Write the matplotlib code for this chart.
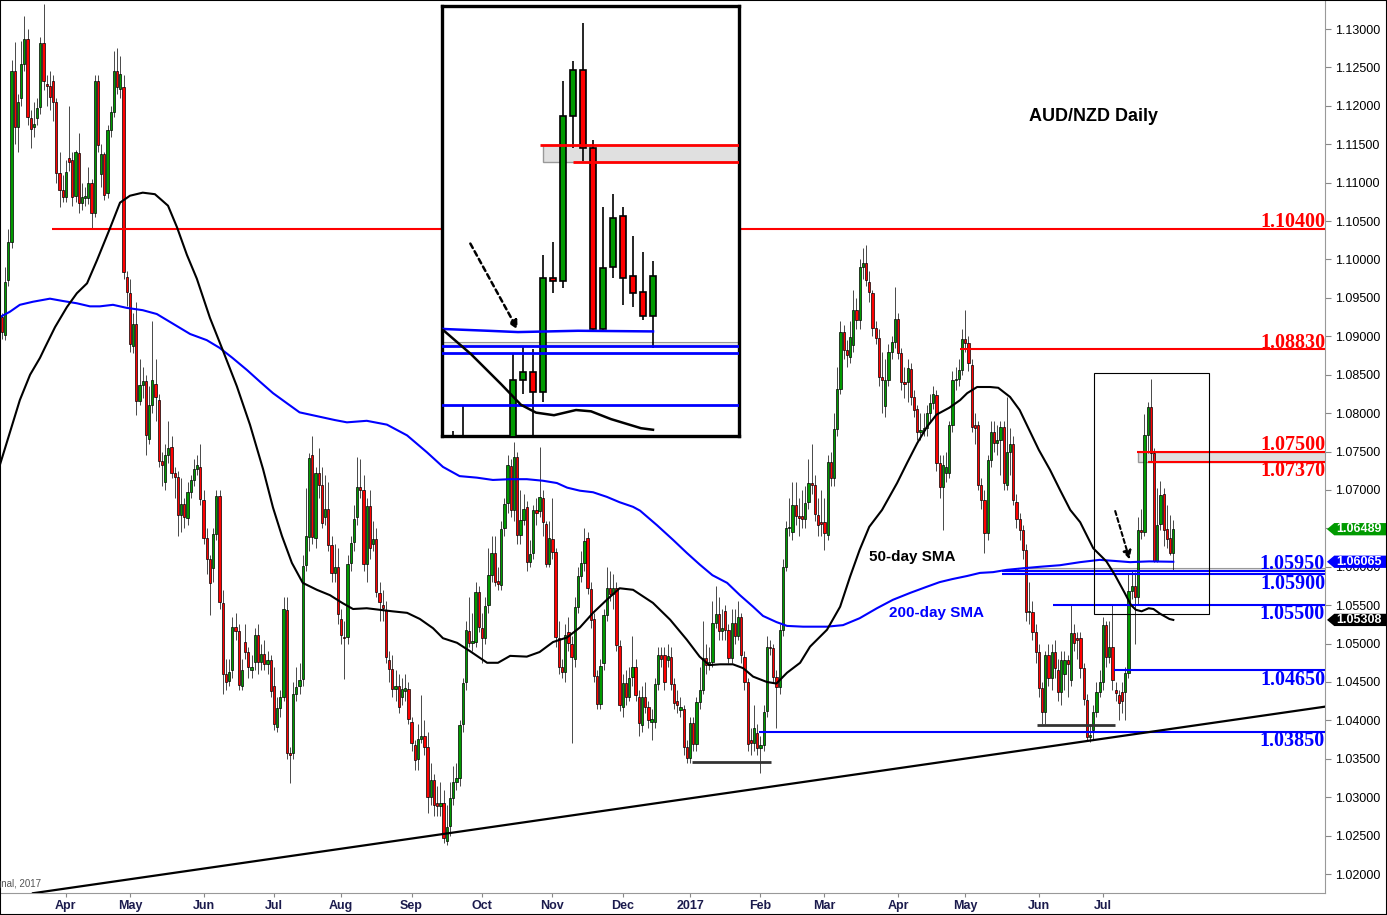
import matplotlib
matplotlib.use("Agg")
import matplotlib.pyplot as plt
import matplotlib.transforms as mtransforms
from matplotlib.patches import Rectangle, Polygon

plt.rcParams['font.family'] = ['Liberation Sans', 'DejaVu Sans']

# daily candles, Mar 2016 - Jul 2017
opens = [
    1.0925, 1.0902, 1.0973, 1.1023, 1.1245, 1.1172, 1.1210, 1.1255, 1.1287, 1.1184,
    1.1172, 1.1184, 1.1199, 1.1282, 1.1229, 1.1226, 1.1232, 1.1205, 1.1113, 1.1090,
    1.1081, 1.1132, 1.1129, 1.1083, 1.1139, 1.1073, 1.1080, 1.1080, 1.1100, 1.1060,
    1.1232, 1.1111, 1.1137, 1.1087, 1.1169, 1.1192, 1.1245, 1.1222, 1.1225, 1.0977,
    1.0956, 1.0887, 1.0916, 1.0816, 1.0837, 1.0842, 1.0766, 1.0810, 1.0838, 1.0817,
    1.0738, 1.0710, 1.0745, 1.0756, 1.0722, 1.0717, 1.0667, 1.0682, 1.0664, 1.0697,
    1.0713, 1.0727, 1.0730, 1.0687, 1.0637, 1.0610, 1.0598, 1.0643, 1.0692, 1.0553,
    1.0460, 1.0451, 1.0465, 1.0522, 1.0516, 1.0445, 1.0502, 1.0489, 1.0466, 1.0476,
    1.0511, 1.0476, 1.0487, 1.0473, 1.0478, 1.0445, 1.0392, 1.0416, 1.0430, 1.0544,
    1.0358, 1.0358, 1.0434, 1.0445, 1.0454, 1.0602, 1.0639, 1.0745, 1.0637, 1.0722,
    1.0706, 1.0665, 1.0675, 1.0628, 1.0592, 1.0600, 1.0532, 1.0509, 1.0509, 1.0605,
    1.0632, 1.0665, 1.0704, 1.0700, 1.0604, 1.0679, 1.0630, 1.0636, 1.0566, 1.0550,
    1.0544, 1.0479, 1.0467, 1.0441, 1.0445, 1.0430, 1.0438, 1.0441, 1.0398, 1.0368,
    1.0350, 1.0376, 1.0380, 1.0365, 1.0300, 1.0322, 1.0292, 1.0288, 1.0293, 1.0243,
    1.0263, 1.0299, 1.0320, 1.0325, 1.0395, 1.0450, 1.0516, 1.0501, 1.0502, 1.0567,
    1.0520, 1.0507, 1.0550, 1.0589, 1.0618, 1.0582, 1.0576, 1.0650, 1.0683, 1.0731,
    1.0674, 1.0743, 1.0641, 1.0661, 1.0678, 1.0606, 1.0618, 1.0674, 1.0672, 1.0690,
    1.0656, 1.0604, 1.0636, 1.0619, 1.0507, 1.0469, 1.0463, 1.0515, 1.0500, 1.0480,
    1.0548, 1.0588, 1.0605, 1.0637, 1.0571, 1.0532, 1.0458, 1.0421, 1.0475, 1.0537,
    1.0572, 1.0565, 1.0572, 1.0497, 1.0417, 1.0449, 1.0430, 1.0456, 1.0469, 1.0430,
    1.0394, 1.0430, 1.0417, 1.0398, 1.0398, 1.0447, 1.0485, 1.0485, 1.0478, 1.0483,
    1.0447, 1.0425, 1.0413, 1.0415, 1.0365, 1.0351, 1.0396, 1.0369, 1.0424, 1.0440,
    1.0481, 1.0472, 1.0476, 1.0527, 1.0538, 1.0516, 1.0542, 1.0518, 1.0481, 1.0527,
    1.0510, 1.0535, 1.0483, 1.0450, 1.0375, 1.0371, 1.0383, 1.0364, 1.0368, 1.0412,
    1.0496, 1.0494, 1.0457, 1.0443, 1.0518, 1.0600, 1.0650, 1.0645, 1.0680, 1.0666,
    1.0666, 1.0662, 1.0684, 1.0709, 1.0707, 1.0667, 1.0658, 1.0658, 1.0641, 1.0736,
    1.0715, 1.0779, 1.0832, 1.0905, 1.0882, 1.0873, 1.0889, 1.0934, 1.0921, 1.0990,
    1.0995, 1.0971, 1.0956, 1.0911, 1.0898, 1.0847, 1.0809, 1.0843, 1.0880, 1.0893,
    1.0923, 1.0878, 1.0840, 1.0840, 1.0857, 1.0821, 1.0806, 1.0775, 1.0778, 1.0780,
    1.0800, 1.0813, 1.0824, 1.0735, 1.0704, 1.0722, 1.0722, 1.0785, 1.0843, 1.0845,
    1.0856, 1.0896, 1.0891, 1.0863, 1.0785, 1.0785, 1.0706, 1.0687, 1.0644, 1.0739,
    1.0775, 1.0761, 1.0765, 1.0782, 1.0706, 1.0749, 1.0760, 1.0684, 1.0662, 1.0648,
    1.0622, 1.0541, 1.0541, 1.0515, 1.0489, 1.0442, 1.0411, 1.0485, 1.0455, 1.0489,
    1.0466, 1.0437, 1.0460, 1.0478, 1.0453, 1.0514, 1.0507, 1.0507, 1.0468, 1.0427,
    1.0378, 1.0387, 1.0411, 1.0437, 1.0450, 1.0524, 1.0482, 1.0496, 1.0440, 1.0433,
    1.0437, 1.0437, 1.0462, 1.0569, 1.0575, 1.0560, 1.0648, 1.0645, 1.0772, 1.0808,
    1.0748, 1.0608, 1.0656, 1.0695, 1.0649, 1.0637, 1.0618,
]
highs = [
    1.0930, 1.0990, 1.1040, 1.1260, 1.1283, 1.1215, 1.1285, 1.1317, 1.1300, 1.1195,
    1.1205, 1.1210, 1.1290, 1.1333, 1.1240, 1.1245, 1.1240, 1.1210, 1.1140, 1.1110,
    1.1130, 1.1200, 1.1140, 1.1143, 1.1165, 1.1100, 1.1095, 1.1120, 1.1105, 1.1240,
    1.1240, 1.1150, 1.1140, 1.1175, 1.1200, 1.1271, 1.1275, 1.1265, 1.1240, 1.0985,
    1.0975, 1.0930, 1.0945, 1.0870, 1.0860, 1.0850, 1.0835, 1.0920, 1.0870, 1.0825,
    1.0750, 1.0760, 1.0790, 1.0770, 1.0730, 1.0725, 1.0715, 1.0690, 1.0710, 1.0720,
    1.0740, 1.0745, 1.0760, 1.0700, 1.0650, 1.0615, 1.0650, 1.0700, 1.0700, 1.0570,
    1.0480, 1.0480, 1.0535, 1.0540, 1.0525, 1.0480, 1.0525, 1.0495, 1.0485, 1.0520,
    1.0525, 1.0500, 1.0505, 1.0490, 1.0485, 1.0470, 1.0430, 1.0440, 1.0560, 1.0560,
    1.0365, 1.0450, 1.0470, 1.0475, 1.0615, 1.0702, 1.0748, 1.0770, 1.0730, 1.0755,
    1.0730, 1.0720, 1.0710, 1.0640, 1.0630, 1.0625, 1.0545, 1.0530, 1.0615, 1.0640,
    1.0680, 1.0743, 1.0740, 1.0720, 1.0690, 1.0700, 1.0660, 1.0650, 1.0580, 1.0570,
    1.0555, 1.0490, 1.0485, 1.0465, 1.0460, 1.0455, 1.0460, 1.0450, 1.0405, 1.0375,
    1.0395, 1.0433, 1.0400, 1.0385, 1.0345, 1.0330, 1.0315, 1.0320, 1.0310, 1.0290,
    1.0320, 1.0340, 1.0345, 1.0400, 1.0455, 1.0530, 1.0560, 1.0540, 1.0580, 1.0575,
    1.0540, 1.0560, 1.0625, 1.0640, 1.0640, 1.0600, 1.0660, 1.0690, 1.0745, 1.0740,
    1.0762, 1.0750, 1.0700, 1.0695, 1.0685, 1.0635, 1.0680, 1.0690, 1.0756, 1.0700,
    1.0660, 1.0660, 1.0690, 1.0625, 1.0530, 1.0480, 1.0525, 1.0535, 1.0510, 1.0560,
    1.0600, 1.0620, 1.0650, 1.0645, 1.0580, 1.0540, 1.0465, 1.0480, 1.0545, 1.0600,
    1.0595, 1.0590, 1.0580, 1.0505, 1.0460, 1.0465, 1.0470, 1.0510, 1.0480, 1.0440,
    1.0445, 1.0450, 1.0425, 1.0415, 1.0455, 1.0495, 1.0495, 1.0495, 1.0500, 1.0495,
    1.0455, 1.0440, 1.0430, 1.0420, 1.0375, 1.0405, 1.0405, 1.0430, 1.0470, 1.0530,
    1.0500, 1.0495, 1.0555, 1.0575, 1.0560, 1.0545, 1.0550, 1.0525, 1.0545, 1.0545,
    1.0555, 1.0540, 1.0490, 1.0455, 1.0390, 1.0420, 1.0395, 1.0380, 1.0420, 1.0510,
    1.0505, 1.0500, 1.0465, 1.0525, 1.0610, 1.0660, 1.0690, 1.0710, 1.0710, 1.0690,
    1.0700, 1.0705, 1.0740, 1.0760, 1.0720, 1.0690, 1.0700, 1.0690, 1.0745, 1.0750,
    1.0800, 1.0860, 1.0920, 1.0915, 1.0895, 1.0920, 1.0960, 1.0950, 1.1000, 1.1015,
    1.1019, 1.0985, 1.0960, 1.0920, 1.0910, 1.0880, 1.0870, 1.0890, 1.0900, 1.0964,
    1.0930, 1.0885, 1.0860, 1.0870, 1.0865, 1.0830, 1.0810, 1.0800, 1.0800, 1.0810,
    1.0825, 1.0835, 1.0830, 1.0745, 1.0745, 1.0750, 1.0790, 1.0855, 1.0860, 1.0870,
    1.0910, 1.0934, 1.0900, 1.0870, 1.0800, 1.0790, 1.0715, 1.0700, 1.0745, 1.0790,
    1.0790, 1.0785, 1.0790, 1.0790, 1.0821, 1.0780, 1.0770, 1.0695, 1.0670, 1.0655,
    1.0630, 1.0580, 1.0555, 1.0525, 1.0500, 1.0450, 1.0490, 1.0500, 1.0500, 1.0505,
    1.0480, 1.0490, 1.0490, 1.0485, 1.0550, 1.0525, 1.0515, 1.0515, 1.0475, 1.0435,
    1.0395, 1.0420, 1.0450, 1.0465, 1.0535, 1.0530, 1.0530, 1.0550, 1.0450, 1.0440,
    1.0450, 1.0470, 1.0590, 1.0595, 1.0593, 1.0665, 1.0675, 1.0799, 1.0815, 1.0844,
    1.0754, 1.0702, 1.0712, 1.0702, 1.0680, 1.0668, 1.0661,
]
lows = [
    1.0897, 1.0895, 1.0965, 1.1015, 1.1150, 1.1140, 1.1200, 1.1245, 1.1175, 1.1145,
    1.1160, 1.1175, 1.1190, 1.1220, 1.1200, 1.1195, 1.1180, 1.1100, 1.1068, 1.1075,
    1.1075, 1.1115, 1.1070, 1.1075, 1.1060, 1.1065, 1.1070, 1.1072, 1.1040, 1.1055,
    1.1140, 1.1095, 1.1077, 1.1080, 1.1160, 1.1185, 1.1215, 1.1210, 1.0975, 1.0940,
    1.0880, 1.0878, 1.0798, 1.0810, 1.0820, 1.0745, 1.0760, 1.0800, 1.0790, 1.0730,
    1.0705, 1.0700, 1.0735, 1.0715, 1.0690, 1.0640, 1.0645, 1.0650, 1.0655, 1.0690,
    1.0705, 1.0720, 1.0680, 1.0630, 1.0590, 1.0537, 1.0580, 1.0635, 1.0545, 1.0434,
    1.0440, 1.0445, 1.0455, 1.0505, 1.0440, 1.0440, 1.0480, 1.0455, 1.0455, 1.0465,
    1.0460, 1.0465, 1.0465, 1.0460, 1.0430, 1.0388, 1.0385, 1.0405, 1.0425, 1.0350,
    1.0318, 1.0350, 1.0425, 1.0435, 1.0445, 1.0595, 1.0620, 1.0630, 1.0625, 1.0690,
    1.0650, 1.0655, 1.0620, 1.0580, 1.0580, 1.0525, 1.0500, 1.0454, 1.0500, 1.0595,
    1.0620, 1.0655, 1.0690, 1.0595, 1.0580, 1.0610, 1.0620, 1.0560, 1.0530, 1.0530,
    1.0475, 1.0450, 1.0430, 1.0425, 1.0410, 1.0420, 1.0425, 1.0395, 1.0360, 1.0335,
    1.0335, 1.0370, 1.0355, 1.0280, 1.0290, 1.0275, 1.0275, 1.0275, 1.0240, 1.0238,
    1.0250, 1.0290, 1.0310, 1.0315, 1.0385, 1.0440, 1.0495, 1.0490, 1.0495, 1.0515,
    1.0475, 1.0500, 1.0540, 1.0580, 1.0575, 1.0570, 1.0570, 1.0640, 1.0670, 1.0665,
    1.0660, 1.0630, 1.0630, 1.0655, 1.0595, 1.0600, 1.0610, 1.0655, 1.0665, 1.0640,
    1.0600, 1.0600, 1.0610, 1.0495, 1.0460, 1.0455, 1.0450, 1.0490, 1.0371, 1.0470,
    1.0540, 1.0580, 1.0595, 1.0565, 1.0520, 1.0450, 1.0415, 1.0415, 1.0465, 1.0530,
    1.0555, 1.0545, 1.0490, 1.0412, 1.0405, 1.0420, 1.0425, 1.0445, 1.0425, 1.0380,
    1.0385, 1.0410, 1.0390, 1.0375, 1.0390, 1.0440, 1.0470, 1.0440, 1.0470, 1.0440,
    1.0415, 1.0410, 1.0405, 1.0355, 1.0345, 1.0345, 1.0360, 1.0360, 1.0415, 1.0435,
    1.0460, 1.0465, 1.0470, 1.0520, 1.0505, 1.0505, 1.0505, 1.0475, 1.0475, 1.0500,
    1.0505, 1.0475, 1.0440, 1.0360, 1.0355, 1.0360, 1.0355, 1.0332, 1.0360, 1.0405,
    1.0485, 1.0450, 1.0390, 1.0435, 1.0510, 1.0595, 1.0640, 1.0635, 1.0655, 1.0640,
    1.0650, 1.0650, 1.0675, 1.0695, 1.0660, 1.0640, 1.0640, 1.0622, 1.0635, 1.0705,
    1.0705, 1.0770, 1.0825, 1.0870, 1.0860, 1.0865, 1.0880, 1.0910, 1.0910, 1.0975,
    1.0965, 1.0945, 1.0900, 1.0890, 1.0835, 1.0800, 1.0795, 1.0835, 1.0870, 1.0885,
    1.0870, 1.0830, 1.0820, 1.0815, 1.0810, 1.0795, 1.0765, 1.0765, 1.0770, 1.0770,
    1.0790, 1.0805, 1.0725, 1.0690, 1.0648, 1.0710, 1.0715, 1.0775, 1.0830, 1.0835,
    1.0850, 1.0880, 1.0855, 1.0775, 1.0760, 1.0700, 1.0675, 1.0618, 1.0635, 1.0730,
    1.0750, 1.0745, 1.0720, 1.0700, 1.0700, 1.0720, 1.0680, 1.0650, 1.0635, 1.0610,
    1.0530, 1.0525, 1.0505, 1.0475, 1.0430, 1.0395, 1.0395, 1.0445, 1.0440, 1.0455,
    1.0425, 1.0420, 1.0440, 1.0430, 1.0445, 1.0490, 1.0480, 1.0455, 1.0420, 1.0375,
    1.0372, 1.0375, 1.0405, 1.0430, 1.0440, 1.0470, 1.0475, 1.0440, 1.0425, 1.0400,
    1.0410, 1.0400, 1.0455, 1.0558, 1.0500, 1.0552, 1.0636, 1.0640, 1.0748, 1.0738,
    1.0606, 1.0606, 1.0648, 1.0627, 1.0625, 1.0615, 1.0594,
]
closes = [
    1.0905, 1.0971, 1.1023, 1.1245, 1.1172, 1.1205, 1.1255, 1.1287, 1.1185, 1.1170,
    1.1176, 1.1197, 1.1282, 1.1232, 1.1226, 1.1212, 1.1205, 1.1113, 1.1090, 1.1081,
    1.1114, 1.1127, 1.1081, 1.1140, 1.1073, 1.1081, 1.1083, 1.1100, 1.1060, 1.1232,
    1.1149, 1.1137, 1.1084, 1.1169, 1.1192, 1.1245, 1.1225, 1.1242, 1.0984, 1.0958,
    1.0890, 1.0916, 1.0816, 1.0837, 1.0842, 1.0772, 1.0810, 1.0843, 1.0821, 1.0738,
    1.0733, 1.0745, 1.0755, 1.0722, 1.0717, 1.0667, 1.0682, 1.0665, 1.0697, 1.0713,
    1.0727, 1.0733, 1.0688, 1.0637, 1.0610, 1.0579, 1.0643, 1.0692, 1.0554, 1.0460,
    1.0450, 1.0463, 1.0522, 1.0516, 1.0446, 1.0465, 1.0489, 1.0470, 1.0470, 1.0511,
    1.0476, 1.0487, 1.0473, 1.0478, 1.0438, 1.0395, 1.0416, 1.0430, 1.0545, 1.0358,
    1.0355, 1.0434, 1.0443, 1.0452, 1.0601, 1.0640, 1.0741, 1.0639, 1.0722, 1.0706,
    1.0657, 1.0675, 1.0628, 1.0592, 1.0600, 1.0539, 1.0511, 1.0507, 1.0603, 1.0631,
    1.0662, 1.0704, 1.0700, 1.0604, 1.0679, 1.0624, 1.0636, 1.0567, 1.0554, 1.0546,
    1.0482, 1.0467, 1.0441, 1.0445, 1.0417, 1.0441, 1.0442, 1.0402, 1.0371, 1.0348,
    1.0376, 1.0380, 1.0365, 1.0300, 1.0322, 1.0290, 1.0288, 1.0292, 1.0247, 1.0261,
    1.0299, 1.0320, 1.0325, 1.0394, 1.0449, 1.0518, 1.0501, 1.0503, 1.0567, 1.0521,
    1.0507, 1.0549, 1.0589, 1.0618, 1.0580, 1.0578, 1.0649, 1.0682, 1.0732, 1.0674,
    1.0743, 1.0641, 1.0661, 1.0675, 1.0606, 1.0616, 1.0674, 1.0670, 1.0691, 1.0658,
    1.0604, 1.0637, 1.0619, 1.0508, 1.0469, 1.0463, 1.0511, 1.0501, 1.0482, 1.0548,
    1.0588, 1.0605, 1.0634, 1.0572, 1.0531, 1.0458, 1.0421, 1.0471, 1.0537, 1.0572,
    1.0565, 1.0572, 1.0498, 1.0420, 1.0449, 1.0430, 1.0455, 1.0469, 1.0433, 1.0397,
    1.0430, 1.0417, 1.0400, 1.0402, 1.0447, 1.0485, 1.0480, 1.0450, 1.0484, 1.0447,
    1.0423, 1.0420, 1.0417, 1.0365, 1.0351, 1.0397, 1.0369, 1.0424, 1.0440, 1.0481,
    1.0472, 1.0476, 1.0527, 1.0538, 1.0516, 1.0520, 1.0518, 1.0481, 1.0527, 1.0510,
    1.0535, 1.0485, 1.0450, 1.0369, 1.0371, 1.0390, 1.0364, 1.0368, 1.0411, 1.0496,
    1.0494, 1.0457, 1.0443, 1.0518, 1.0600, 1.0650, 1.0652, 1.0680, 1.0666, 1.0664,
    1.0662, 1.0683, 1.0709, 1.0707, 1.0669, 1.0654, 1.0656, 1.0644, 1.0736, 1.0715,
    1.0779, 1.0832, 1.0905, 1.0882, 1.0876, 1.0899, 1.0934, 1.0921, 1.0990, 1.0995,
    1.0973, 1.0958, 1.0911, 1.0898, 1.0847, 1.0843, 1.0843, 1.0880, 1.0893, 1.0923,
    1.0878, 1.0840, 1.0838, 1.0859, 1.0821, 1.0804, 1.0775, 1.0778, 1.0780, 1.0800,
    1.0813, 1.0825, 1.0735, 1.0704, 1.0733, 1.0730, 1.0785, 1.0843, 1.0845, 1.0856,
    1.0896, 1.0891, 1.0865, 1.0782, 1.0780, 1.0706, 1.0687, 1.0644, 1.0739, 1.0775,
    1.0761, 1.0765, 1.0782, 1.0709, 1.0749, 1.0760, 1.0687, 1.0662, 1.0648, 1.0622,
    1.0541, 1.0543, 1.0515, 1.0489, 1.0442, 1.0411, 1.0485, 1.0455, 1.0489, 1.0468,
    1.0437, 1.0479, 1.0478, 1.0474, 1.0514, 1.0501, 1.0505, 1.0468, 1.0428, 1.0378,
    1.0381, 1.0411, 1.0437, 1.0450, 1.0524, 1.0482, 1.0496, 1.0453, 1.0436, 1.0423,
    1.0425, 1.0462, 1.0569, 1.0575, 1.0560, 1.0648, 1.0645, 1.0772, 1.0808, 1.0748,
    1.0608, 1.0655, 1.0694, 1.0648, 1.0636, 1.0618, 1.06489,
]

month_pos = [20, 40, 63, 85, 106, 128, 150, 172, 194, 215, 237, 257, 280, 301, 324, 344]
month_names = ['Apr', 'May', 'Jun', 'Jul', 'Aug', 'Sep', 'Oct', 'Nov', 'Dec',
               '2017', 'Feb', 'Mar', 'Apr', 'May', 'Jun', 'Jul']

# moving averages as drawn on the chart
sma50_x = [-0.6, 2.5, 5.6, 8.8, 11.9, 13.4, 16.6, 20.3, 23.4, 26.6,
           29.7, 33.8, 36.9, 40.0, 44.0, 47.8, 50.0, 51.9, 54.7, 57.8,
           60.9, 65.0, 69.0, 73.4, 77.5, 81.6, 84.7, 87.5, 90.6, 94.0,
           98.4, 102.5, 106.3, 109.7, 114.0, 118.0, 122.0, 126.6, 130.6, 134.7,
           137.8, 142.2, 146.3, 151.6, 155.0, 158.8, 164.0, 168.0, 172.2, 176.6,
           180.6, 184.7, 189.0, 193.0, 197.2, 203.4, 208.8, 214.0, 218.0, 221.0,
           224.4, 228.4, 231.6, 234.7, 239.0, 242.0, 245.3, 249.4, 252.5, 257.8,
           261.9, 265.0, 268.0, 271.0, 275.0, 279.7, 282.8, 286.0, 289.0, 292.0,
           296.0, 299.4, 301.6, 304.7, 308.8, 311.3, 315.0, 318.0, 321.0, 324.0,
           327.5, 330.6, 333.8, 336.9, 341.0, 345.1, 347.8, 350.8, 352.8, 354.3,
           356.1, 358.3, 359.8, 361.8, 364.8, 366.0]
sma50_y = [1.0733, 1.0775, 1.0817, 1.0850, 1.0872, 1.0885, 1.0912, 1.0938, 1.0956, 1.0969,
           1.0999, 1.1041, 1.1074, 1.1083, 1.1087, 1.1085, 1.1077, 1.1070, 1.1042, 1.1006,
           1.0975, 1.0924, 1.0882, 1.0835, 1.0785, 1.0727, 1.0677, 1.0640, 1.0605, 1.0579,
           1.0570, 1.0563, 1.0553, 1.0545, 1.0546, 1.0544, 1.0542, 1.0540, 1.0532, 1.0520,
           1.0507, 1.0501, 1.0490, 1.0475, 1.0475, 1.0484, 1.0483, 1.0489, 1.0502, 1.0508,
           1.0521, 1.0540, 1.0557, 1.0572, 1.0570, 1.0553, 1.0531, 1.0505, 1.0483, 1.0472,
           1.0473, 1.0473, 1.0468, 1.0457, 1.0450, 1.0448, 1.0462, 1.0475, 1.0496, 1.0518,
           1.0548, 1.0587, 1.0622, 1.0652, 1.0674, 1.0709, 1.0735, 1.0761, 1.0782, 1.0798,
           1.0807, 1.0817, 1.0826, 1.0834, 1.0834, 1.0833, 1.0821, 1.0804, 1.0778, 1.0752,
           1.0726, 1.0700, 1.0674, 1.0658, 1.0624, 1.0607, 1.0589, 1.0566, 1.0550, 1.0544,
           1.0542, 1.0546, 1.0545, 1.0539, 1.0532, 1.05308]
sma200_x = [-0.6, 2.5, 5.6, 9.7, 15.0, 19.0, 23.4, 27.5, 30.6, 34.7,
            39.0, 44.0, 48.4, 51.6, 55.6, 58.8, 64.0, 68.0, 72.0, 76.6,
            80.6, 84.7, 89.0, 93.0, 104.0, 107.8, 114.0, 120.3, 126.6, 132.8,
            137.8, 143.0, 148.4, 153.4, 158.8, 164.0, 169.0, 173.4, 176.6, 180.6,
            184.7, 189.0, 193.0, 197.2, 199.4, 204.7, 209.7, 214.0, 218.0, 222.0,
            226.6, 230.6, 234.7, 237.8, 242.0, 245.3, 250.3, 257.8, 262.8, 268.0,
            273.4, 278.4, 283.8, 289.0, 293.0, 297.0, 301.6, 305.6, 309.7, 314.0,
            319.0, 324.4, 330.6, 336.9, 343.0, 349.5, 352.5, 358.5, 366.0]
sma200_y = [1.0925, 1.0932, 1.0941, 1.0945, 1.0949, 1.0946, 1.0943, 1.0939, 1.0939, 1.0941,
            1.0937, 1.0934, 1.0929, 1.0921, 1.0911, 1.0903, 1.0895, 1.0885, 1.0872, 1.0856,
            1.0841, 1.0826, 1.0813, 1.0801, 1.0791, 1.0788, 1.0790, 1.0785, 1.0771, 1.0749,
            1.0730, 1.0718, 1.0716, 1.0713, 1.0714, 1.0714, 1.0712, 1.0709, 1.0703, 1.0699,
            1.0697, 1.0691, 1.0684, 1.0678, 1.0673, 1.0654, 1.0635, 1.0618, 1.0603, 1.0589,
            1.0579, 1.0563, 1.0548, 1.0536, 1.0528, 1.0523, 1.0522, 1.0522, 1.0524, 1.0533,
            1.0546, 1.0557, 1.0566, 1.0574, 1.0580, 1.0584, 1.0588, 1.0592, 1.0593, 1.0596,
            1.0598, 1.0600, 1.0602, 1.0606, 1.0609, 1.0607, 1.0606, 1.0607, 1.06065]

# horizontal levels: price, first bar, colour, label, label above line
level_prices = [1.1040, 1.0883, 1.0750, 1.0737, 1.0595, 1.0590, 1.0550, 1.0465, 1.0385]
level_start = [15.6, 299.4, 354.7, 358.0, 312.5, 312.5, 328.4, 347.5, 236.5]
level_colors = ['red', 'red', 'red', 'red', 'blue', 'blue', 'blue', 'blue', 'blue']
level_labels = ['1.10400', '1.08830', '1.07500', '1.07370', '1.05950',
                '1.05900', '1.05500', '1.04650', '1.03850']
level_above = [True, True, True, False, True, False, False, False, False]

support_prices = [1.0346, 1.0394]
support_from = [215.6, 323.4]
support_to = [240.3, 347.8]

trend_x = [9.7, 413.6]
trend_y = [1.0175, 1.0418]

GREEN = '#009a00'
RED = '#ff0000'
BLUE = '#0000ff'

n = len(closes)
idx = list(range(n))


def draw_candles(ax, width, lw):
    bottoms = [min(o, c) for o, c in zip(opens, closes)]
    heights = [max(abs(c - o), 0.00004) for o, c in zip(opens, closes)]
    cols = [GREEN if c >= o else RED for o, c in zip(opens, closes)]
    ax.vlines(idx, lows, highs, color='black', lw=lw, zorder=3)
    ax.bar(idx, heights, bottom=bottoms, width=width, color=cols,
           edgecolor='black', linewidth=lw, zorder=4)


def draw_overlays(ax, lw_lvl, lw_sma):
    ax.add_patch(Rectangle((355, 1.0737), 100, 0.0013, fc='#e0e0e0', ec='#999999', lw=1, zorder=2))
    ax.add_patch(Rectangle((317.5, 1.0595), 100, 0.0003, fc='#e6e6e6', ec='#999999', lw=0.8, zorder=2))
    for p, s, c in zip(level_prices, level_start, level_colors):
        ax.hlines(p, s, 440, color=c, lw=lw_lvl, zorder=5)
    ax.plot(sma200_x, sma200_y, color=BLUE, lw=lw_sma, zorder=6)
    ax.plot(sma50_x, sma50_y, color='black', lw=lw_sma, zorder=6)
    ax.annotate('', xy=(352.6, 1.0606), xytext=(347.6, 1.0676),
                arrowprops=dict(arrowstyle='-|>,head_length=0.5,head_width=0.25',
                                color='black', lw=lw_sma, ls=(0, (2, 1.5))), zorder=7)


fig = plt.figure(figsize=(13.87, 9.15), dpi=100)
ax = fig.add_axes([0, 22 / 915, 1325 / 1387, 893 / 915])

draw_candles(ax, 0.7, 0.5)
draw_overlays(ax, 1.5, 1.5)

for p, a, b in zip(support_prices, support_from, support_to):
    ax.hlines(p, a, b, color='#333333', lw=2, zorder=5)
ax.plot(trend_x, trend_y, color='black', lw=1.6, zorder=5)
ax.add_patch(Rectangle((341.25, 1.0539), 35.95, 0.0313, fill=False, ec='black', lw=0.8, zorder=6))

blend = mtransforms.blended_transform_factory(ax.transAxes, ax.transData)
for p, lab, c, up in zip(level_prices, level_labels, level_colors, level_above):
    ax.annotate(lab, xy=(1.0, p), xycoords=blend, xytext=(0, -2.6 if up else 0.6),
                textcoords='offset points', ha='right', va='bottom' if up else 'top',
                fontsize=14.5, fontweight='bold', family='Liberation Serif', color=c, zorder=8)

ax.text(341, 1.1186, 'AUD/NZD Daily', ha='center', va='center', fontsize=13, fontweight='bold')
ax.text(284.4, 1.0613, '50-day SMA', ha='center', va='center', fontsize=11, fontweight='bold')
ax.text(291.9, 1.0540, '200-day SMA', ha='center', va='center', fontsize=11,
        fontweight='bold', color=BLUE)

ax.set_xlim(-0.6, 413.4)
ax.set_ylim(1.01753, 1.13378)
ax.yaxis.tick_right()
yt = [1.02 + 0.005 * k for k in range(23)]
ax.set_yticks(yt)
ax.set_yticklabels(['%.5f' % v for v in yt])
ax.tick_params(axis='y', direction='out', length=4, color='#888888', labelsize=9, pad=3)
ax.set_xticks(month_pos)
ax.set_xticklabels(month_names, fontweight='bold', color='#1b1b4d', fontsize=9)
ax.tick_params(axis='x', direction='out', length=3, color='#888888', pad=2)
for side in ['top', 'left']:
    ax.spines[side].set_visible(False)
for side in ['right', 'bottom']:
    ax.spines[side].set_color('#999999')

# value tags on the price axis
tag_vals = [closes[-1], sma200_y[-1], sma50_y[-1]]
tag_colors = [GREEN, BLUE, 'black']
hh = 0.00080
for v, c in zip(tag_vals, tag_colors):
    ax.add_patch(Polygon([(1.0015, v), (1.0070, v + hh), (1.05, v + hh), (1.05, v - hh), (1.0070, v - hh)],
                         closed=True, transform=blend, fc=c, ec='none', clip_on=False, zorder=9))
    ax.text(1.0085, v, '%.5f' % v, transform=blend, ha='left', va='center', color='white',
            fontsize=9, fontweight='bold', zorder=10, clip_on=False)

# zoomed inset
axin = fig.add_axes([442 / 1387, 1 - 436 / 915, 297 / 1387, 430 / 915])
draw_candles(axin, 0.65, 1.2)
draw_overlays(axin, 2.0, 1.8)
axin.set_xlim(344.9, 374.6)
axin.set_ylim(1.0526, 1.0857)
axin.set_xticks([])
axin.set_yticks([])
for s in axin.spines.values():
    s.set_linewidth(2.4)
    s.set_color('black')

fig.text(41 / 1387, 1 - 884 / 915, '\u00a9 eSignal, 2017', ha='right', va='center',
         fontsize=7, color='#555555')
fig.add_artist(Rectangle((0, 0), 1, 1, transform=fig.transFigure, fill=False, ec='black', lw=1.5))

fig.savefig('out.png', dpi=100)
